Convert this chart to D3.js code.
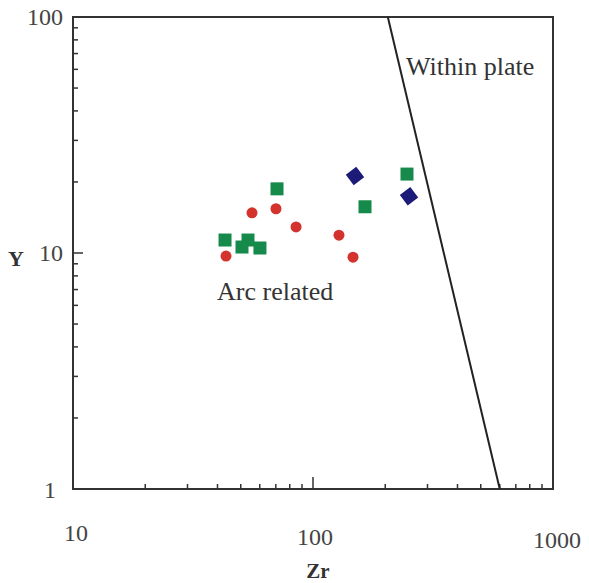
<!DOCTYPE html>
<html>
<head>
<meta charset="utf-8">
<script src="https://cdn.jsdelivr.net/npm/d3@7"></script>
<style>
  body { margin: 0; background: #fff; }
  svg text { font-family: "Liberation Serif", Tinos, "Times New Roman", Times, "DejaVu Serif", serif; }
</style>
</head>
<body>
<div id="chart"></div>
<script>
// Données (Zr, Y)
const squareZr = [43.0, 50.6, 53.6, 60.1, 70.8, 164.7, 246.4];
const squareY  = [11.35, 10.6, 11.35, 10.5, 18.7, 15.7, 21.6];
const circleZr = [43.4, 55.7, 70.1, 85.0, 128.3, 146.8];
const circleY  = [9.7, 14.8, 15.4, 12.9, 11.9, 9.6];
const diamondZr = [149.6, 251.2];
const diamondY  = [21.2, 17.4];
// Ligne de discrimination
const lineZr = [205, 600];
const lineY  = [100, 1];
const xTickLabels = [10, 100, 1000];
const yTickLabels = [1, 10, 100];

const width = 589, height = 583;
const margin = {left: 73, right: 36, top: 17, bottom: 94};

const svg = d3.select("#chart").append("svg")
    .attr("width", width)
    .attr("height", height);

const x = d3.scaleLog().domain([10, 1000]).range([margin.left, width - margin.right]);
const y = d3.scaleLog().domain([1, 100]).range([height - margin.bottom, margin.top]);

// Graduations mineures / majeures
const minorX = [];
[10, 100].forEach(d => { for (let i = 2; i <= 9; i++) minorX.push(d * i); });
const minorY = [];
[1, 10].forEach(d => { for (let i = 2; i <= 9; i++) minorY.push(d * i); });

const axisColor = "#333";

svg.append("g")
    .selectAll("line")
    .data(minorX)
    .enter().append("line")
    .attr("x1", d => x(d)).attr("x2", d => x(d))
    .attr("y1", y(1)).attr("y2", y(1) - 5)
    .attr("stroke", axisColor).attr("stroke-width", 1.5);

svg.append("g")
    .selectAll("line")
    .data([100])
    .enter().append("line")
    .attr("x1", d => x(d)).attr("x2", d => x(d))
    .attr("y1", y(1)).attr("y2", y(1) - 12)
    .attr("stroke", axisColor).attr("stroke-width", 1.5);

svg.append("g")
    .selectAll("line")
    .data(minorY)
    .enter().append("line")
    .attr("x1", x(10)).attr("x2", x(10) + 5)
    .attr("y1", d => y(d)).attr("y2", d => y(d))
    .attr("stroke", axisColor).attr("stroke-width", 1.5);

svg.append("g")
    .selectAll("line")
    .data([10])
    .enter().append("line")
    .attr("x1", x(10)).attr("x2", x(10) + 10)
    .attr("y1", d => y(d)).attr("y2", d => y(d))
    .attr("stroke", axisColor).attr("stroke-width", 1.5);

// Cadre
svg.append("rect")
    .attr("x", x(10)).attr("y", y(100))
    .attr("width", x(1000) - x(10))
    .attr("height", y(1) - y(100))
    .attr("fill", "none")
    .attr("stroke", axisColor)
    .attr("stroke-width", 2);

// Étiquettes des axes
svg.append("g")
    .selectAll("text")
    .data(xTickLabels)
    .enter().append("text")
    .attr("x", d => x(d) + (d === 10 ? 3 : d === 1000 ? 4 : 2))
    .attr("y", d => d === 10 ? 541 : d === 100 ? 545 : 548)
    .attr("text-anchor", "middle")
    .attr("font-size", "24px")
    .attr("fill", "#444")
    .text(d => d);

svg.append("g")
    .selectAll("text")
    .data(yTickLabels)
    .enter().append("text")
    .attr("x", d => d === 1 ? 56 : 63)
    .attr("y", d => y(d) + (d === 1 ? 9 : 8))
    .attr("text-anchor", "end")
    .attr("font-size", "24px")
    .attr("fill", "#444")
    .text(d => d);

svg.append("text")
    .attr("x", 16).attr("y", 266)
    .attr("text-anchor", "middle")
    .attr("font-size", "22px")
    .attr("font-weight", "bold")
    .attr("fill", "#333")
    .text("Y");

svg.append("text")
    .attr("x", 318).attr("y", 578)
    .attr("text-anchor", "middle")
    .attr("font-size", "21px")
    .attr("font-weight", "bold")
    .attr("fill", "#333")
    .text("Zr");

// Ligne de séparation
svg.append("line")
    .attr("x1", x(lineZr[0])).attr("y1", y(lineY[0]))
    .attr("x2", x(lineZr[1])).attr("y2", y(lineY[1]))
    .attr("stroke", "#222")
    .attr("stroke-width", 2);

svg.append("text")
    .attr("x", 406).attr("y", 75)
    .attr("font-size", "26px")
    .attr("fill", "#333")
    .text("Within plate");

svg.append("text")
    .attr("x", 217).attr("y", 300)
    .attr("font-size", "26px")
    .attr("fill", "#333")
    .text("Arc related");

// Points
svg.append("g")
    .selectAll("circle")
    .data(d3.zip(circleZr, circleY))
    .enter().append("circle")
    .attr("cx", d => x(d[0]))
    .attr("cy", d => y(d[1]))
    .attr("r", 5.5)
    .attr("fill", "#d3322d");

const sq = 13;
svg.append("g")
    .selectAll("rect")
    .data(d3.zip(squareZr, squareY))
    .enter().append("rect")
    .attr("x", d => x(d[0]) - sq / 2)
    .attr("y", d => y(d[1]) - sq / 2)
    .attr("width", sq)
    .attr("height", sq)
    .attr("fill", "#168a4a");

svg.append("g")
    .selectAll("path")
    .data(d3.zip(diamondZr, diamondY))
    .enter().append("path")
    .attr("d", d3.symbol().type(d3.symbolDiamond2).size(220))
    .attr("transform", d => `translate(${x(d[0])},${y(d[1])}) rotate(8)`)
    .attr("fill", "#1c1c78");
</script>
</body>
</html>
